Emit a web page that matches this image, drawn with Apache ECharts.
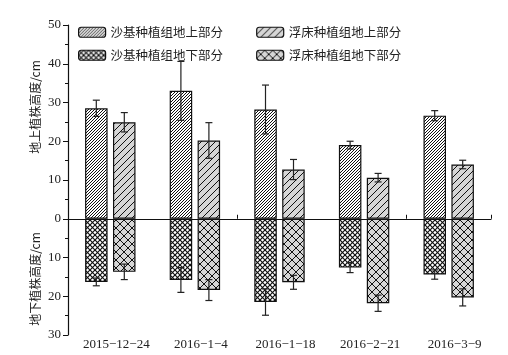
<!DOCTYPE html>
<html>
<head>
<meta charset="utf-8">
<script src="https://cdn.jsdelivr.net/npm/echarts@6/dist/echarts.min.js"></script>
<style>html,body{margin:0;padding:0;background:#fff}#c{width:508px;height:355px}</style>
</head>
<body>
<div id="c"></div>
<script>
const categories = ['2015−12−24', '2016−1−4', '2016−1−18', '2016−2−21', '2016−3−9'];
const seriesNames = ['沙基种植组地上部分', '浮床种植组地上部分', '沙基种植组地下部分', '浮床种植组地下部分'];
const sandAbove = [28.5, 33.0, 28.2, 19.0, 26.6];
const sandAboveErr = [2.1, 7.6, 6.3, 1.0, 1.3];
const floatAbove = [24.9, 20.2, 12.7, 10.6, 14.0];
const floatAboveErr = [2.5, 4.6, 2.6, 1.1, 1.1];
const sandBelow = [16.3, 15.8, 21.5, 12.6, 14.4];
const sandBelowErr = [1.0, 3.2, 3.4, 1.3, 1.2];
const floatBelow = [13.7, 18.4, 16.4, 21.8, 20.3];
const floatBelowErr = [2.0, 2.7, 1.8, 2.1, 2.2];
const yTitleAbove = '地上植株高度/cm';
const yTitleBelow = '地下植株高度/cm';

function hatch(size, bg, lw, cross) {
  const c = document.createElement('canvas');
  c.width = c.height = size;
  const ctx = c.getContext('2d');
  ctx.fillStyle = bg; ctx.fillRect(0, 0, size, size);
  ctx.strokeStyle = '#111'; ctx.lineWidth = lw;
  for (const k of [-size, 0, size]) {
    ctx.beginPath(); ctx.moveTo(k, size); ctx.lineTo(k + size, 0); ctx.stroke();
    if (cross) { ctx.beginPath(); ctx.moveTo(k, 0); ctx.lineTo(k + size, size); ctx.stroke(); }
  }
  return c;
}
const GRAY = '#d6d6d6';
const pSandAbove = { image: hatch(3, '#ffffff', 1, false), repeat: 'repeat' };
const pFloatAbove = { image: hatch(7, GRAY, 1, false), repeat: 'repeat' };
const pSandBelow = { image: hatch(5, '#ffffff', 1.2, true), repeat: 'repeat' };
const pFloatBelow = { image: hatch(8, GRAY, 1, true), repeat: 'repeat' };

const SERIF = '"Liberation Serif", "DejaVu Serif", serif';
const CJK = '"Noto Sans CJK SC", sans-serif';
const BAR_W = 22.5;
const OFF = 14;

function barSeries(name, data, stack, color) {
  return {
    name, type: 'bar', stack, data, xAxisIndex: 0, yAxisIndex: 0,
    barWidth: BAR_W, barGap: '24%',
    itemStyle: { color, borderColor: '#111', borderWidth: 1.2 },
    emphasis: { disabled: true }
  };
}
function errSeries(vals, errs, sign, offset) {
  return {
    type: 'custom', xAxisIndex: 0, yAxisIndex: 0, z: 5,
    data: vals.map((v, i) => [i, sign * (v - errs[i]), sign * (v + errs[i])]),
    encode: { x: 0, y: [1, 2] },
    renderItem: function (params, api) {
      const i = api.value(0);
      const a = api.coord([i, api.value(1)]);
      const b = api.coord([i, api.value(2)]);
      const x = a[0] + offset;
      const cw = 3.5;
      const st = { stroke: '#222', lineWidth: 1.2 };
      return {
        type: 'group',
        children: [
          { type: 'line', shape: { x1: x, y1: a[1], x2: x, y2: b[1] }, style: st },
          { type: 'line', shape: { x1: x - cw, y1: a[1], x2: x + cw, y2: a[1] }, style: st },
          { type: 'line', shape: { x1: x - cw, y1: b[1], x2: x + cw, y2: b[1] }, style: st }
        ]
      };
    }
  };
}

const chart = echarts.init(document.getElementById('c'), null, { renderer: 'canvas' });
const legendCommon = {
  left: 73, itemWidth: 27, itemHeight: 10, itemGap: 33,
  textStyle: { fontFamily: CJK, fontSize: 12.5, color: '#222' },
  itemStyle: { borderColor: '#111', borderWidth: 1.2 },
  selectedMode: false
};
chart.setOption({
  animation: false,
  backgroundColor: '#fff',
  grid: { left: 68, right: 17, top: 25, bottom: 20, containLabel: false },
  legend: [
    Object.assign({ top: 21, data: [seriesNames[0], seriesNames[1]] }, legendCommon),
    Object.assign({ top: 44, data: [seriesNames[2], seriesNames[3]] }, legendCommon)
  ],
  xAxis: [
    {
      type: 'category', data: categories, position: 'bottom',
      axisLine: { show: false, onZero: false },
      axisTick: { show: false },
      axisLabel: { interval: 0, hideOverlap: false, fontFamily: SERIF, fontSize: 13, color: '#222', margin: 3, padding: [0, 0, 0, 12] }
    },
    {
      type: 'category', data: categories, position: 'bottom',
      axisLine: { show: true, onZero: true, onZeroAxisIndex: 0, lineStyle: { color: '#111', width: 1.2 } },
      axisTick: { show: true, inside: true, length: 4, lineStyle: { color: '#111' } },
      axisLabel: { show: false }
    }
  ],
  yAxis: {
    type: 'value', min: -30, max: 50, interval: 10,
    axisLine: { show: true, lineStyle: { color: '#111', width: 1.2 } },
    axisTick: { show: true, length: 5, lineStyle: { color: '#111' } },
    minorTick: { show: true, splitNumber: 2, length: 3, lineStyle: { color: '#111' } },
    splitLine: { show: false },
    axisLabel: { fontFamily: SERIF, fontSize: 13, color: '#222', margin: 7, formatter: v => String(Math.abs(v)) }
  },
  graphic: [
    { type: 'text', x: 35, y: 107, rotation: Math.PI / 2,
      style: { text: yTitleAbove, textAlign: 'center', textVerticalAlign: 'middle', font: '12px ' + CJK, fill: '#222' } },
    { type: 'text', x: 35, y: 279, rotation: Math.PI / 2,
      style: { text: yTitleBelow, textAlign: 'center', textVerticalAlign: 'middle', font: '12px ' + CJK, fill: '#222' } }
  ],
  series: [
    barSeries(seriesNames[0], sandAbove, 'sand', pSandAbove),
    barSeries(seriesNames[1], floatAbove, 'float', pFloatAbove),
    barSeries(seriesNames[2], sandBelow.map(v => -v), 'sand', pSandBelow),
    barSeries(seriesNames[3], floatBelow.map(v => -v), 'float', pFloatBelow),
    errSeries(sandAbove, sandAboveErr, 1, -OFF),
    errSeries(floatAbove, floatAboveErr, 1, OFF),
    errSeries(sandBelow, sandBelowErr, -1, -OFF),
    errSeries(floatBelow, floatBelowErr, -1, OFF)
  ]
});
</script>
</body>
</html>
